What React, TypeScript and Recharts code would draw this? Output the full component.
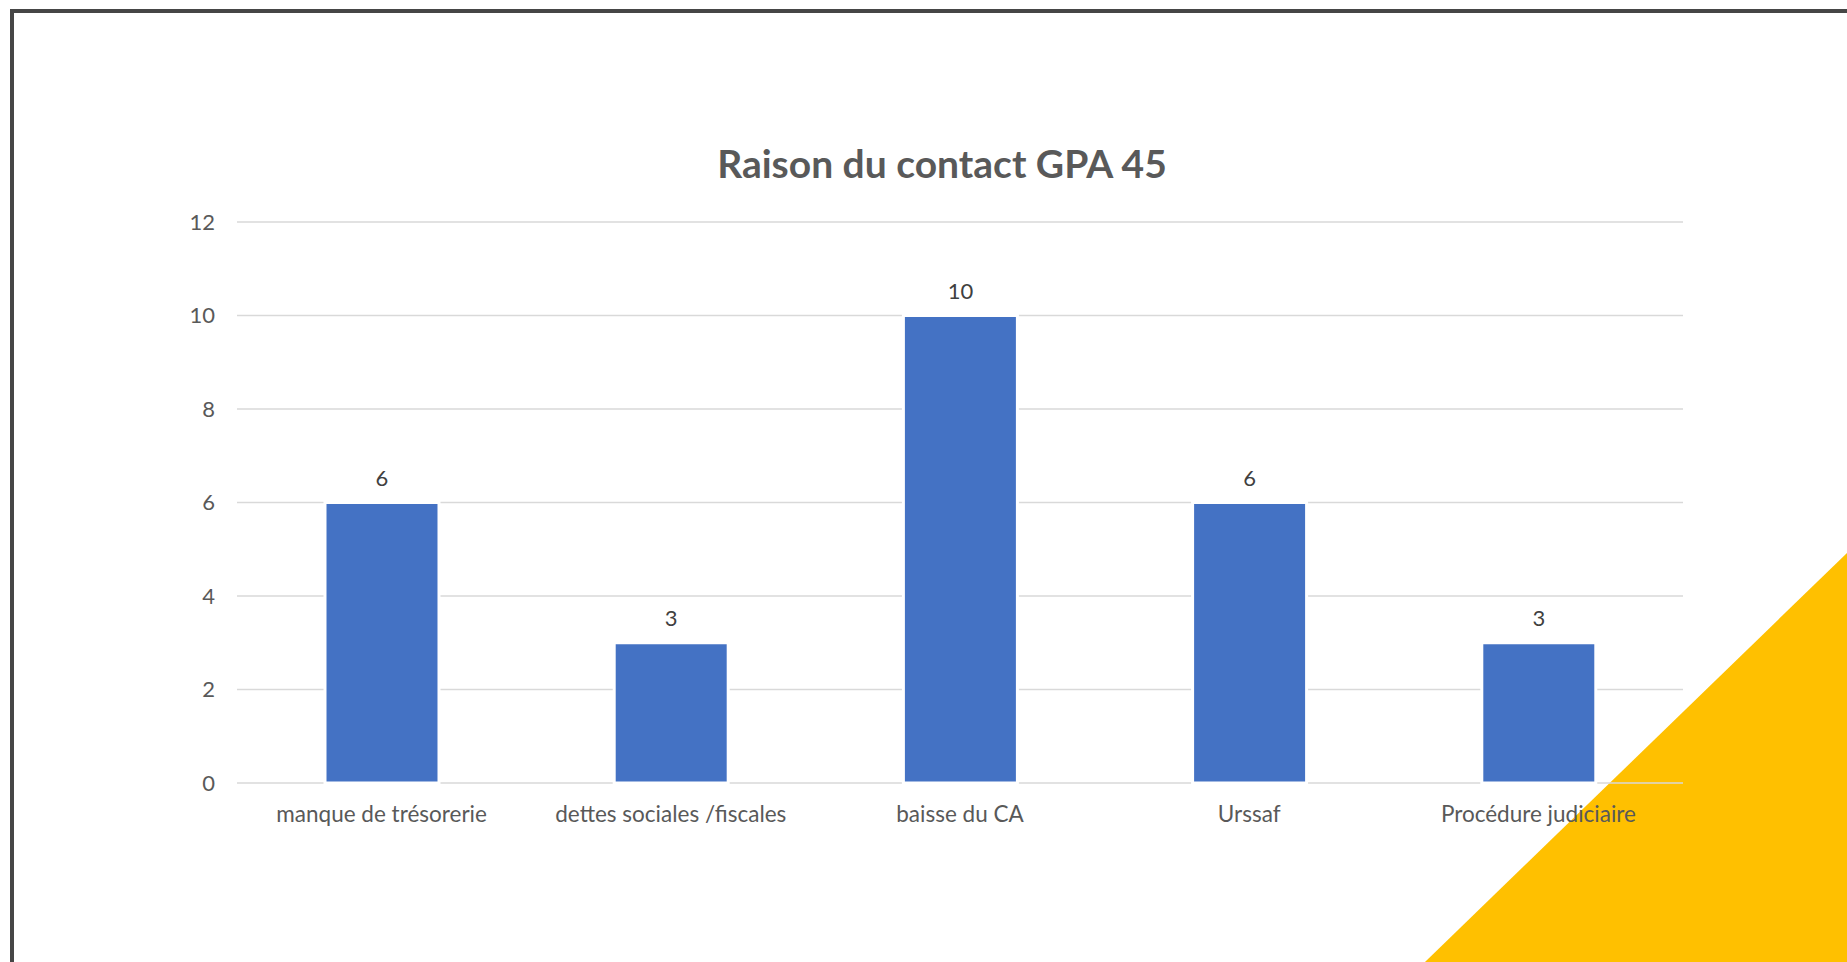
import React from 'react'
import { BarChart, Bar, CartesianGrid, XAxis, YAxis, LabelList } from 'recharts'

const categories = ['manque de trésorerie', 'dettes sociales /fiscales', 'baisse du CA', 'Urssaf', 'Procédure judiciaire']
const counts = [6, 3, 10, 6, 3]
const yTicks = [0, 2, 4, 6, 8, 10, 12]
const edgeTicks = [0, 1, 2, 3, 4, 5]

const data = categories.map((name, i) => ({ name, value: counts[i] }))

const font = 'Lato, "Open Sans", sans-serif'

export default function App() {
  return (
    <div style={{ position: 'absolute', left: 0, top: 0, width: 1847, height: 962, overflow: 'hidden', background: '#fff', fontFamily: font }}>
      {/* frame */}
      <div style={{ position: 'absolute', left: 10, top: 9, width: 1900, height: 1000, borderLeft: '4px solid #464646', borderTop: '4px solid #464646' }} />
      {/* yellow corner */}
      <svg width={1847} height={962} style={{ position: 'absolute', left: 0, top: 0 }}>
        <polygon points="1847,553 1847,962 1425,962" fill="#FFC000" />
      </svg>
      <div style={{ position: 'absolute', left: 442, top: 140, width: 1000, textAlign: 'center', fontSize: 39, fontWeight: 700, color: '#595959' }}>
        Raison du contact GPA 45
      </div>
      <div style={{ position: 'absolute', left: 0, top: 0 }}>
        <BarChart width={1847} height={962} data={data} margin={{ top: 222, right: 164, bottom: 119, left: 0 }}>
          <CartesianGrid vertical={false} stroke="#d9d9d9" strokeWidth={1.5} />
          <XAxis
            xAxisId="edge"
            type="number"
            domain={[0, 5]}
            ticks={edgeTicks}
            tick={false}
            height={0}
            tickSize={7}
            axisLine={{ stroke: '#d9d9d9', strokeWidth: 1.5 }}
            tickLine={{ stroke: '#d9d9d9', strokeWidth: 1.5 }}
            allowDataOverflow
          />
          <XAxis
            dataKey="name"
            axisLine={false}
            tickLine={false}
            height={60}
            tickSize={0}
            tickMargin={23}
            tick={{ fill: '#595959', fontSize: 22.5, fontFamily: font }}
            interval={0}
          />
          <YAxis
            width={237}
            domain={[0, 12]}
            ticks={yTicks}
            axisLine={false}
            tickLine={false}
            tickSize={0}
            tickMargin={22}
            tick={{ fill: '#595959', fontSize: 22, fontFamily: font }}
          />
          <Bar dataKey="value" fill="#4472C4" stroke="#fff" strokeWidth={3} barSize={114} isAnimationActive={false}>
            <LabelList dataKey="value" position="top" offset={17} fill="#404040" fontSize={22} fontFamily={font} />
          </Bar>
        </BarChart>
      </div>
    </div>
  )
}
